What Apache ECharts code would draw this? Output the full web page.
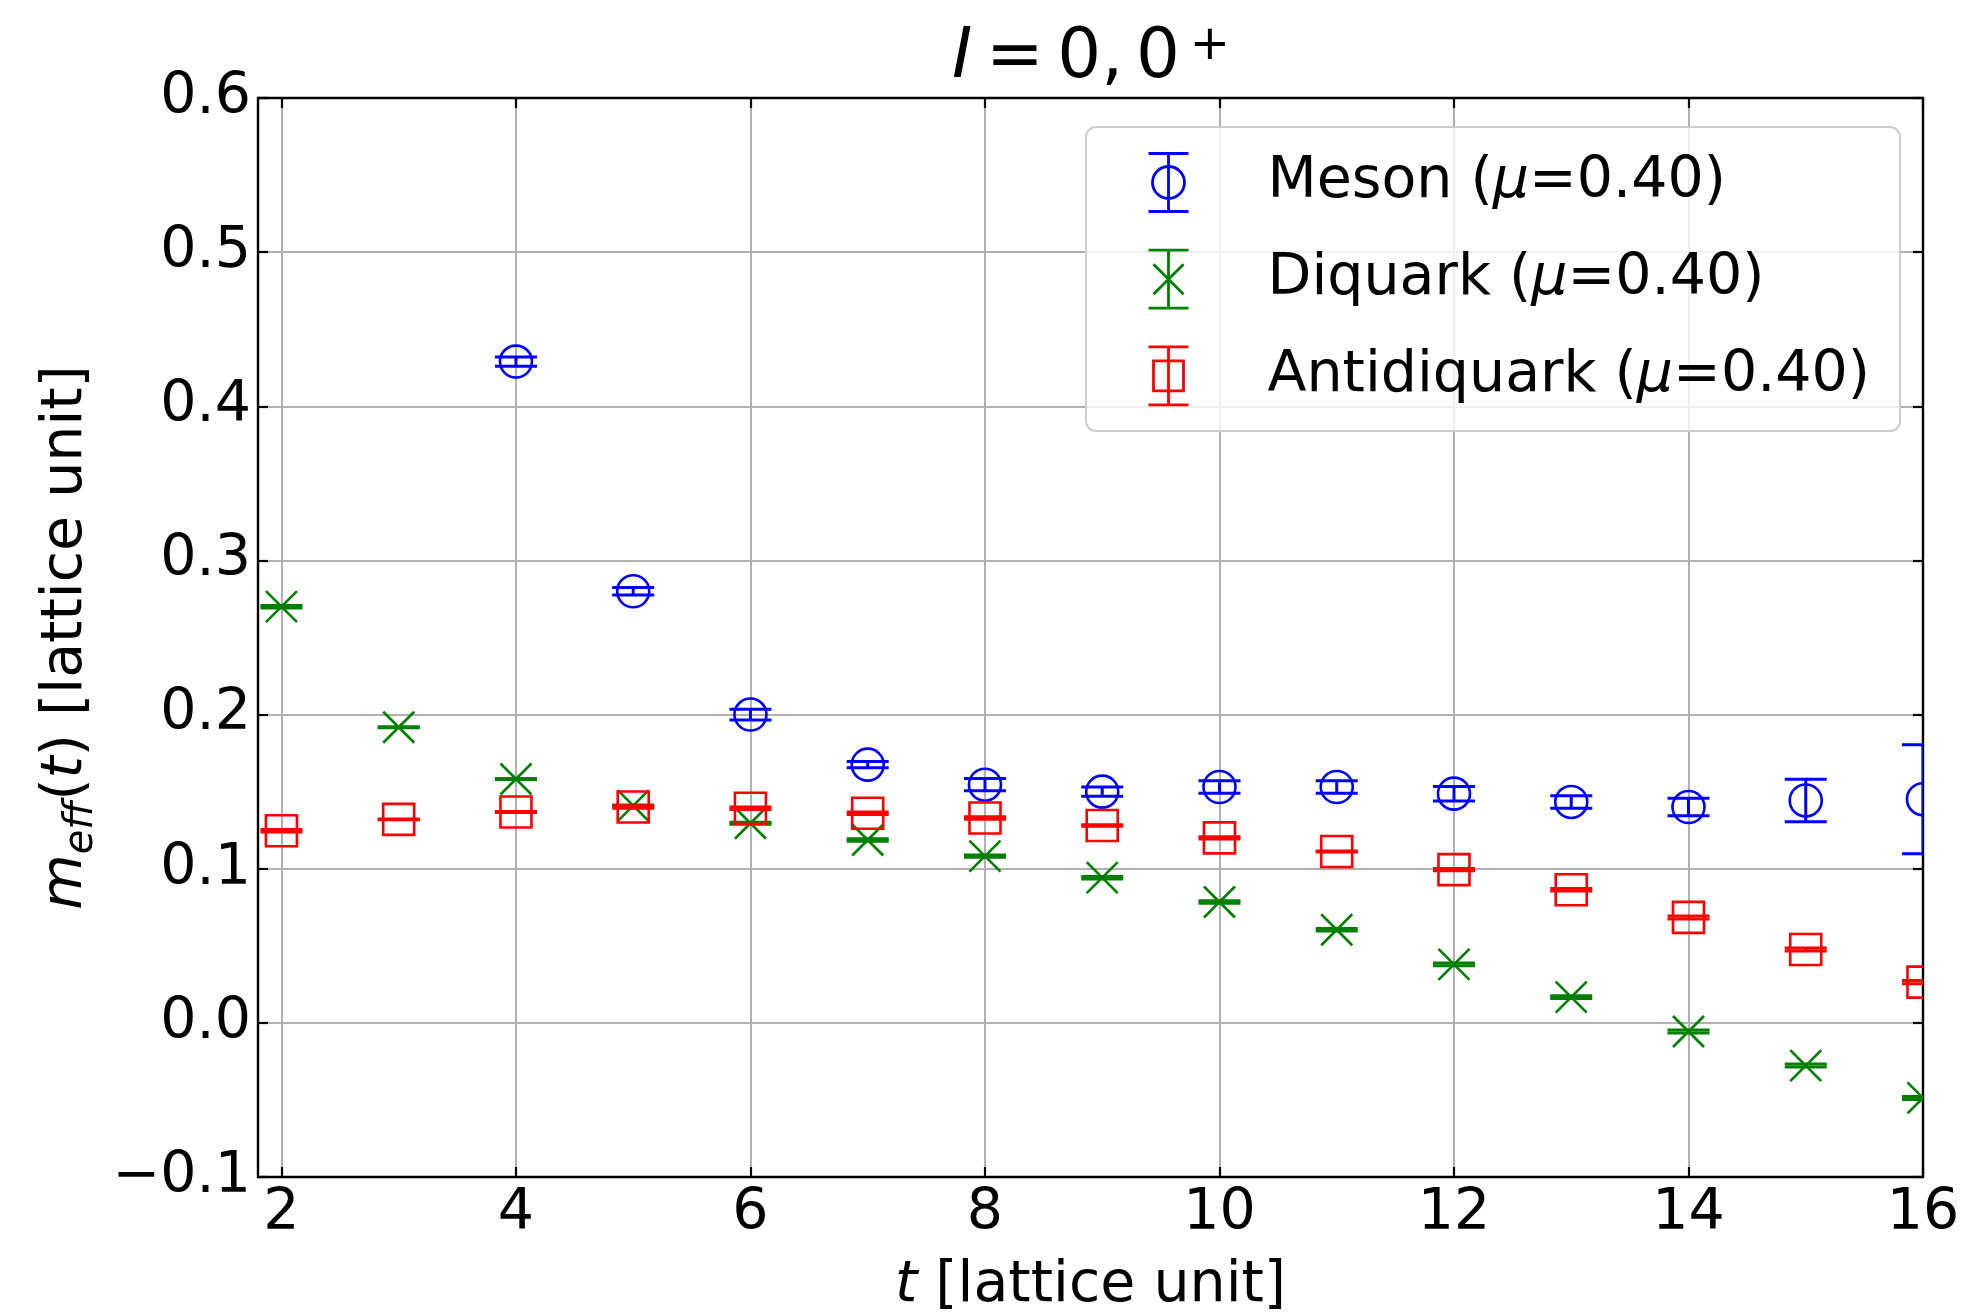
<!DOCTYPE html>
<html><head><meta charset="utf-8">
<script src="https://cdn.jsdelivr.net/npm/echarts@6/dist/echarts.min.js"></script>
<style>html,body{margin:0;padding:0;background:#fff}#c{width:1962px;height:1315px}</style>
</head><body><div id="c"></div>
<script>
// ---- data ----
const tMeson = [4, 5, 6, 7, 8, 9, 10, 11, 12, 13, 14, 15, 16];
const mesonVal = [0.429, 0.280, 0.200, 0.1675, 0.1545, 0.150, 0.153, 0.153, 0.1487, 0.1433, 0.140, 0.1443, 0.1451];
const mesonErr = [0.003, 0.0025, 0.0035, 0.002, 0.004, 0.003, 0.004, 0.004, 0.0047, 0.004, 0.0057, 0.0138, 0.0354];

const tDiquark = [2, 3, 4, 5, 6, 7, 8, 9, 10, 11, 12, 13, 14, 15, 16];
const diquarkVal = [0.270, 0.1918, 0.1582, 0.1409, 0.1295, 0.1186, 0.1082, 0.0942, 0.0784, 0.0604, 0.0379, 0.0167, -0.0056, -0.0277, -0.0487];
const diquarkErr = [0.0008, 0.0003, 0.0003, 0.0005, 0.0007, 0.0008, 0.0007, 0.0008, 0.0008, 0.0008, 0.0009, 0.0009, 0.0009, 0.001, 0.001];

const tAnti = [2, 3, 4, 5, 6, 7, 8, 9, 10, 11, 12, 13, 14, 15, 16];
const antiVal = [0.1246, 0.132, 0.1368, 0.140, 0.1392, 0.136, 0.1329, 0.128, 0.120, 0.1112, 0.0994, 0.0864, 0.0684, 0.0476, 0.0264];
const antiErr = [0.0008, 0.0003, 0.0003, 0.0008, 0.0008, 0.0008, 0.0008, 0.0005, 0.0008, 0.0003, 0.0008, 0.0008, 0.001, 0.001, 0.001];

const xTicks = [2, 4, 6, 8, 10, 12, 14, 16];
const yTicks = [-0.1, 0.0, 0.1, 0.2, 0.3, 0.4, 0.5, 0.6];
const seriesNames = ['Meson', 'Diquark', 'Antidiquark'];
const muLabel = '0.40';

// ---- styling ----
const FONT = 'DejaVu Sans';
const FS = 57;
const BLUE = '#0000ff', GREEN = '#008000', RED = '#ff0000';

function zip(t, v, e) { return t.map((x, i) => [x, v[i], e[i]]); }

function makeRender(color, marker) {
  return function (params, api) {
    const t = api.value(0), v = api.value(1), e = api.value(2);
    const c = api.coord([t, v]);
    const hi = api.coord([t, v + e])[1];
    const lo = api.coord([t, v - e])[1];
    const cap = 21, h = 15.5;
    const ls = () => ({ stroke: color, lineWidth: 3, fill: null });
    const mk = () => ({ stroke: color, lineWidth: 2.6, fill: 'none' });
    const ch = [
      { type: 'line', shape: { x1: c[0], y1: hi, x2: c[0], y2: lo }, style: ls() },
      { type: 'line', shape: { x1: c[0] - cap, y1: hi, x2: c[0] + cap, y2: hi }, style: ls() },
      { type: 'line', shape: { x1: c[0] - cap, y1: lo, x2: c[0] + cap, y2: lo }, style: ls() }
    ];
    if (marker === 'circle') {
      ch.push({ type: 'circle', shape: { cx: c[0], cy: c[1], r: 16 }, style: mk() });
    } else if (marker === 'rect') {
      ch.push({ type: 'rect', shape: { x: c[0] - h, y: c[1] - h, width: 2 * h, height: 2 * h }, style: mk() });
    } else {
      ch.push({ type: 'line', shape: { x1: c[0] - h, y1: c[1] - h, x2: c[0] + h, y2: c[1] + h }, style: mk() });
      ch.push({ type: 'line', shape: { x1: c[0] + h, y1: c[1] - h, x2: c[0] - h, y2: c[1] + h }, style: mk() });
    }
    return { type: 'group', children: ch };
  };
}

const iconCircle = 'path://M0,0 L40,0 M0,58 L40,58 M20,0 L20,58 M36,29 A16,16 0 1 1 4,29 A16,16 0 1 1 36,29 Z';
const iconX = 'path://M0,0 L40,0 M0,58 L40,58 M20,0 L20,58 M5,14 L35,44 M35,14 L5,44';
const iconRect = 'path://M0,0 L40,0 M0,58 L40,58 M20,0 L20,58 M5,14 L35,14 L35,44 L5,44 Z';

const fmtY = v => (v < 0 ? '\u2212' : '') + Math.abs(v).toFixed(1);

const chart = echarts.init(document.getElementById('c'), null, { renderer: 'canvas' });

const axisLineStyle = { color: '#000', width: 2.4 };
const tickStyle = { color: '#000', width: 2.2 };
const tBase = { fontFamily: FONT, fontSize: 69, fontWeight: 'normal', color: '#000', lineHeight: 72 };

chart.setOption({
  animation: false,
  backgroundColor: '#fff',
  textStyle: { fontFamily: FONT },
  title: {
    text: '{i|I}{eq|=}{n|0,}{b|0}{s|+}',
    left: 1091, top: 23, textAlign: 'center', padding: 0,
    textStyle: {
      fontWeight: 'normal',
      rich: {
        i: Object.assign({}, tBase, { fontStyle: 'italic' }),
        eq: Object.assign({}, tBase, { padding: [0, 13.6, 0, 13.6] }),
        n: Object.assign({}, tBase),
        b: Object.assign({}, tBase, { padding: [0, 0, 0, 12.8] }),
        s: { fontFamily: FONT, fontSize: 48, fontWeight: 'normal', color: '#000', lineHeight: 48, padding: [0, 0, 24, 10] }
      }
    }
  },
  grid: { left: 258, right: 39, top: 98, bottom: 138, containLabel: false, outerBoundsMode: 'none' },
  legend: {
    orient: 'vertical',
    left: 1086, top: 127,
    padding: [24, 30, 23.5, 60],
    itemWidth: 40, itemHeight: 58, itemGap: 33.7,
    backgroundColor: 'rgba(255,255,255,0.8)',
    borderColor: '#cccccc', borderWidth: 2, borderRadius: 10,
    selectedMode: false,
    data: [
      { name: seriesNames[0], icon: iconCircle, itemStyle: { color: 'none', borderColor: BLUE, borderWidth: 2.8 } },
      { name: seriesNames[1], icon: iconX, itemStyle: { color: 'none', borderColor: GREEN, borderWidth: 2.8 } },
      { name: seriesNames[2], icon: iconRect, itemStyle: { color: 'none', borderColor: RED, borderWidth: 2.8 } }
    ],
    formatter: name => '{sp| }{n|' + name + ' (}{i|\u03bc}{n|=' + muLabel + ')}',
    textStyle: {
      rich: {
        sp: { width: 74, fontSize: FS, lineHeight: 58 },
        n: { fontFamily: FONT, fontSize: FS, color: '#000', lineHeight: 58 },
        i: { fontFamily: FONT, fontSize: FS, fontStyle: 'italic', color: '#000', lineHeight: 58 }
      }
    }
  },
  xAxis: [
    {
      type: 'value', min: 1.8, max: 16, position: 'bottom',
      name: '{i|t}{n| [lattice unit]}', nameLocation: 'middle', nameGap: 81,
      nameTextStyle: {
        rich: {
          i: { fontFamily: FONT, fontSize: FS, fontStyle: 'italic', color: '#000', lineHeight: 57 },
          n: { fontFamily: FONT, fontSize: FS, color: '#000', lineHeight: 57 }
        }
      },
      axisLine: { show: true, onZero: false, lineStyle: axisLineStyle },
      axisTick: { show: true, inside: true, length: 10, lineStyle: tickStyle, customValues: xTicks },
      axisLabel: { show: true, customValues: xTicks, margin: 9, fontSize: FS, fontFamily: FONT, color: '#000', lineHeight: 57 },
      splitLine: { show: true, lineStyle: { color: '#b0b0b0', width: 2 } }
    },
    {
      type: 'value', min: 1.8, max: 16, position: 'top',
      axisLine: { show: true, onZero: false, lineStyle: axisLineStyle },
      axisTick: { show: true, inside: true, length: 10, lineStyle: tickStyle, customValues: xTicks },
      axisLabel: { show: false },
      splitLine: { show: false }
    }
  ],
  yAxis: [
    {
      type: 'value', min: -0.1, max: 0.6, interval: 0.1, position: 'left',
      name: '{i|m}{sub|eff}{n|(}{i|t}{n|) [lattice unit]}', nameLocation: 'middle', nameGap: 149,
      nameTextStyle: {
        rich: {
          i: { fontFamily: FONT, fontSize: FS, fontStyle: 'italic', color: '#000', lineHeight: 72 },
          n: { fontFamily: FONT, fontSize: FS, color: '#000', lineHeight: 72 },
          sub: { fontFamily: FONT, fontSize: 40, fontStyle: 'italic', color: '#000', lineHeight: 40, padding: [32, 0, 0, 0] }
        }
      },
      axisLine: { show: true, onZero: false, lineStyle: axisLineStyle },
      axisTick: { show: true, inside: true, length: 10, lineStyle: tickStyle, customValues: yTicks },
      axisLabel: { show: true, customValues: yTicks, formatter: fmtY, margin: 7, fontSize: FS, fontFamily: FONT, color: '#000' },
      splitLine: { show: true, lineStyle: { color: '#b0b0b0', width: 2 } }
    },
    {
      type: 'value', min: -0.1, max: 0.6, interval: 0.1, position: 'right',
      axisLine: { show: true, onZero: false, lineStyle: axisLineStyle },
      axisTick: { show: true, inside: true, length: 10, lineStyle: tickStyle, customValues: yTicks },
      axisLabel: { show: false },
      splitLine: { show: false }
    }
  ],
  series: [
    {
      name: seriesNames[0], type: 'custom', xAxisIndex: 0, yAxisIndex: 0, clip: true,
      itemStyle: { color: BLUE },
      encode: { x: 0, y: 1 },
      data: zip(tMeson, mesonVal, mesonErr),
      renderItem: makeRender(BLUE, 'circle'), z: 3
    },
    {
      name: seriesNames[1], type: 'custom', xAxisIndex: 0, yAxisIndex: 0, clip: true,
      itemStyle: { color: GREEN },
      encode: { x: 0, y: 1 },
      data: zip(tDiquark, diquarkVal, diquarkErr),
      renderItem: makeRender(GREEN, 'x'), z: 4
    },
    {
      name: seriesNames[2], type: 'custom', xAxisIndex: 0, yAxisIndex: 0, clip: true,
      itemStyle: { color: RED },
      encode: { x: 0, y: 1 },
      data: zip(tAnti, antiVal, antiErr),
      renderItem: makeRender(RED, 'rect'), z: 5
    }
  ]
});
</script>
</body></html>
